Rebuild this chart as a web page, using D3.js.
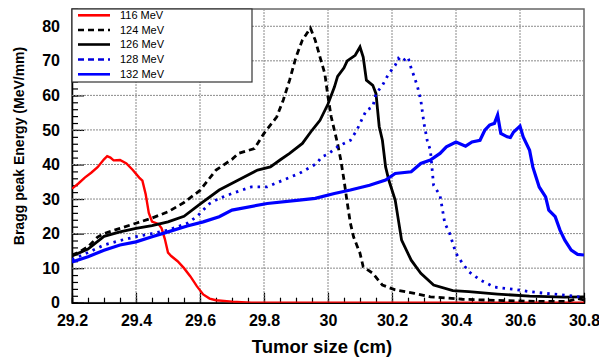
<!DOCTYPE html>
<html><head><meta charset="utf-8">
<script src="https://cdn.jsdelivr.net/npm/d3@7"></script>
<style>body{margin:0;background:#fff}svg{display:block}</style>
</head><body><svg id="c" width="599" height="357"></svg>
<script>
const xTicks = [29.2,29.4,29.6,29.8,30,30.2,30.4,30.6,30.8];
const yTicks = [0,10,20,30,40,50,60,70,80];
const seriesNames = ["116 MeV","124 MeV","126 MeV","128 MeV","132 MeV"];

const e116x = [29.20,29.22,29.24,29.26,29.28,29.30,29.31,29.32,29.33,29.35,29.37,29.39,29.41,29.42,29.43,29.44,29.45,29.47,29.48,29.49,29.50,29.51,29.53,29.55,29.57,29.59,29.61,29.63,29.65,29.70,29.76,30.80];
const e116y = [33.0,34.5,36.2,37.6,39.2,41.5,42.4,42.0,41.2,41.3,40.3,38.4,36.2,35.3,31.5,26.0,23.5,22.8,21.5,18.5,14.5,13.5,12.0,10.0,7.6,4.8,2.4,1.2,0.7,0.3,0,0];

const e124x = [29.20,29.22,29.25,29.28,29.30,29.35,29.40,29.45,29.50,29.55,29.60,29.65,29.70,29.72,29.77,29.80,29.84,29.86,29.88,29.90,29.92,29.945,29.96,29.975,29.99,30.00,30.01,30.03,30.04,30.05,30.06,30.07,30.08,30.10,30.11,30.14,30.17,30.21,30.27,30.32,30.42,30.55,30.65,30.75,30.78,30.80];
const e124y = [13.8,14.5,16.2,19.0,20.0,21.5,23.0,24.5,26.3,29.0,32.5,38.4,41.5,43.2,44.6,49.0,53.8,58.6,64.4,71.1,76.0,79.5,76.0,71.1,66.3,59.6,53.8,46.0,41.3,35.5,29.0,23.0,19.0,14.3,10.4,8.5,5.1,3.7,2.7,1.7,1.0,0.6,0.4,0.4,1.2,0.8];

const e126x = [29.20,29.25,29.30,29.35,29.40,29.45,29.50,29.55,29.60,29.66,29.72,29.78,29.82,29.85,29.88,29.92,29.95,29.975,30.00,30.02,30.03,30.05,30.06,30.085,30.10,30.11,30.12,30.14,30.15,30.16,30.17,30.18,30.19,30.21,30.22,30.23,30.26,30.29,30.33,30.39,30.44,30.53,30.63,30.74,30.80];
const e126y = [13.5,15.5,19.2,20.5,21.5,22.3,23.4,25.0,28.5,32.6,35.5,38.4,39.3,41.3,43.2,46.1,49.9,52.8,57.5,62.4,65.5,68.0,70.0,71.6,74.0,71.1,64.4,62.9,60.5,51.0,47.0,39.3,35.5,29.7,23.9,18.1,12.3,8.5,5.1,3.5,3.2,2.5,1.9,1.6,1.7];

const e128x = [29.20,29.25,29.30,29.35,29.40,29.45,29.50,29.56,29.59,29.63,29.66,29.70,29.76,29.81,29.86,29.91,29.965,29.98,30.00,30.03,30.05,30.07,30.09,30.10,30.12,30.14,30.15,30.17,30.19,30.21,30.22,30.23,30.25,30.26,30.27,30.28,30.29,30.30,30.31,30.32,30.33,30.35,30.365,30.38,30.40,30.42,30.44,30.475,30.52,30.58,30.63,30.68,30.74,30.80];
const e128y = [12.5,14.5,16.7,18.0,19.1,20.0,21.0,23.0,24.9,28.7,30.2,31.6,33.5,33.5,35.5,37.4,40.3,42.2,43.0,45.1,46.1,47.0,49.9,51.9,55.7,56.7,60.5,62.9,66.3,68.7,70.7,69.7,71.1,67.8,65.3,62.4,58.6,51.9,47.0,44.1,34.0,31.1,23.0,20.1,14.3,11.4,9.0,6.6,4.5,3.9,3.2,2.7,2.2,1.5];

const e132x = [29.20,29.25,29.30,29.35,29.40,29.45,29.50,29.56,29.61,29.66,29.70,29.81,29.91,29.96,30.02,30.07,30.13,30.18,30.21,30.26,30.29,30.32,30.35,30.37,30.40,30.43,30.45,30.475,30.49,30.505,30.52,30.53,30.54,30.56,30.57,30.58,30.60,30.61,30.63,30.64,30.65,30.66,30.68,30.69,30.71,30.725,30.74,30.76,30.78,30.80];
const e132y = [11.8,13.3,15.2,16.7,17.6,19.1,20.5,22.2,23.4,24.9,26.8,28.7,29.7,30.2,31.6,32.6,34.0,35.5,37.4,37.9,40.3,41.3,43.2,45.1,46.5,45.3,46.5,47.0,49.9,51.4,51.9,54.3,49.0,48.0,47.8,49.4,51.1,48.0,44.1,39.3,36.4,33.5,30.6,26.8,24.9,21.0,18.1,15.2,14.0,13.8];

const seriesX = [e116x,e124x,e126x,e128x,e132x];
const seriesY = [e116y,e124y,e126y,e128y,e132y];
const styles = [
  {color:"#ff0000", w:2.4, dash:null},
  {color:"#000000", w:2.8, dash:"6,4"},
  {color:"#000000", w:2.8, dash:null},
  {color:"#0000dd", w:2.8, dash:"2.5,5"},
  {color:"#0000ff", w:3.2, dash:null}
];

const svg = d3.select("#c");
const L=72, R=584, T=9, B=302.7;
const x = d3.scaleLinear().domain([29.2,30.8]).range([L,R]);
const y = d3.scaleLinear().domain([0,85]).range([B,T]);
const font = "'Liberation Sans', Arial, Helvetica, sans-serif";

// white background
svg.append("rect").attr("width",599).attr("height",357).attr("fill","#fff");

svg.append("defs").append("clipPath").attr("id","clip")
  .append("rect").attr("x",L).attr("y",T).attr("width",R-L).attr("height",B-T);

// frame
svg.append("rect").attr("x",L).attr("y",T).attr("width",R-L).attr("height",B-T)
  .attr("fill","none").attr("stroke","#666").attr("stroke-width",1.5);

// axes
const xAxis = d3.axisBottom(x).tickValues(d3.range(0,33).map(i=>29.2+i*0.05))
  .tickSize(-5).tickFormat("");
svg.append("g").attr("transform",`translate(0,${B})`).call(xAxis)
  .call(s=>{s.select(".domain").attr("stroke","#000").attr("stroke-width",1.5);
            s.selectAll(".tick line").attr("stroke","#000").attr("stroke-width",1.2);});
const xMaj = d3.axisBottom(x).tickValues(xTicks).tickSize(-10)
  .tickFormat(d=>d3.format("~g")(d));
svg.append("g").attr("transform",`translate(0,${B})`).call(xMaj)
  .call(s=>{s.select(".domain").remove();
            s.selectAll(".tick line").attr("stroke","#000").attr("stroke-width",1.2);
            s.selectAll(".tick text").attr("y",12).attr("font-family",font).attr("font-weight","bold")
              .attr("font-size","16px").attr("fill","#000");});

const yAxis = d3.axisLeft(y).tickValues(d3.range(0,43).map(i=>i*2)).tickSize(-6).tickFormat("");
svg.append("g").attr("transform",`translate(${L},0)`).call(yAxis)
  .call(s=>{s.select(".domain").attr("stroke","#000").attr("stroke-width",1.5);
            s.selectAll(".tick line").attr("stroke","#000").attr("stroke-width",1.2);});
const yMaj = d3.axisLeft(y).tickValues(yTicks).tickSize(-12).tickFormat(d=>d);
svg.append("g").attr("transform",`translate(${L},0)`).call(yMaj)
  .call(s=>{s.select(".domain").remove();
            s.selectAll(".tick line").attr("stroke","#000").attr("stroke-width",1.2);
            s.selectAll(".tick text").attr("x",-12).attr("font-family",font).attr("font-weight","bold")
              .attr("font-size","16px").attr("fill","#000");});

// grid (drawn above frame/axes, below data)
const gridG = svg.append("g").attr("class","gridlines");
gridG.selectAll("line.vg").data(xTicks.slice(1,-1)).join("line").attr("class","vg")
  .attr("x1",d=>x(d)).attr("x2",d=>x(d)).attr("y1",T).attr("y2",B)
  .style("stroke","#8a8a8a").style("stroke-width","1px").style("stroke-dasharray","2 1");
gridG.selectAll("line.hg").data(yTicks.slice(1)).join("line").attr("class","hg")
  .attr("x1",L).attr("x2",R).attr("y1",d=>y(d)).attr("y2",d=>y(d))
  .style("stroke","#8a8a8a").style("stroke-width","1px").style("stroke-dasharray","2 1");

// lines
const plot = svg.append("g").attr("clip-path","url(#clip)");
const line = d3.line().x(d=>x(d[0])).y(d=>y(d[1])).curve(d3.curveLinear);
seriesX.forEach((xs,i)=>{
  const data = xs.map((v,j)=>[v,seriesY[i][j]]);
  plot.append("path").datum(data).attr("d",line).attr("fill","none")
    .attr("stroke",styles[i].color).attr("stroke-width",styles[i].w)
    .attr("stroke-linejoin","miter")
    .attr("stroke-dasharray",styles[i].dash);
});

// legend
const lg = svg.append("g");
lg.append("rect").attr("x",72).attr("y",9).attr("width",180).attr("height",73)
  .attr("fill","#fff").attr("stroke","#333").attr("stroke-width",1.2);
const ly = [15.3,30,44.5,59.5,74.3];
seriesNames.forEach((n,i)=>{
  lg.append("line").attr("x1",78).attr("x2",110).attr("y1",ly[i]).attr("y2",ly[i])
    .attr("stroke",styles[i].color).attr("stroke-width",2.6)
    .attr("stroke-dasharray",i===1||i===3?"6,4":null);
  lg.append("text").attr("x",120).attr("y",ly[i]).attr("dy","0.35em")
    .attr("font-family",font).attr("font-size","11px").attr("fill","#000").text(n);
});

// titles
svg.append("text").attr("x",322).attr("y",353).attr("text-anchor","middle")
  .attr("font-family",font).attr("font-weight","bold").attr("font-size","18.5px").text("Tumor size (cm)");
svg.append("text").attr("transform","translate(23.5,146) rotate(-90)").attr("text-anchor","middle")
  .attr("font-family",font).attr("font-weight","bold").attr("font-size","14px").text("Bragg peak Energy (MeV/mm)");
</script></body></html>
